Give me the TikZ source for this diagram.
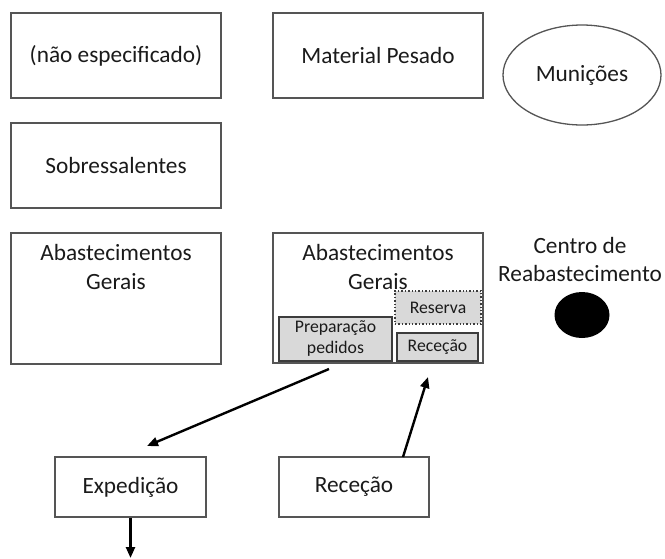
\documentclass[tikz,border=0pt]{standalone}
\usepackage{fontspec}
\setmainfont{Carlito}
\usetikzlibrary{positioning,arrows.meta,shapes.geometric}

\definecolor{boxline}{HTML}{555555}
\definecolor{innerline}{HTML}{3C3C3C}
\definecolor{innerfill}{HTML}{D9D9D9}
\definecolor{textcol}{HTML}{1A1A1A}
\newcommand{\lblfont}{\fontsize{23.3}{28.5}\selectfont}
\newcommand{\innerfont}{\fontsize{17.7}{21}\selectfont}

\tikzset{
    box/.style={draw=boxline, line width=1.7pt, minimum width=210pt,
        minimum height=85pt, inner sep=0pt, font=\lblfont, text=textcol, align=center},
    boxtext/.style={inner sep=0pt, font=\lblfont, text=textcol, align=center},
    innerbox/.style={draw=innerline, fill=innerfill, line width=1.4pt,
        inner sep=0pt, font=\innerfont, text=textcol, align=center},
    flow/.style={line width=2.4pt, -{Triangle[length=11pt,width=9pt]}}
}

\begin{document}
\begin{tikzpicture}[x=1pt, y=-1pt]
\useasboundingbox (0,0) rectangle (665,558);

% Top row
\node[box] (naoesp) at (116,55.5) {(não especificado)};
\node[box] (material) at (378,55.5) {Material Pesado};
\node[ellipse, draw=boxline, line width=1.3pt, minimum width=158pt, minimum height=100pt,
    inner sep=0pt, font=\lblfont, text=textcol] (municoes) at (582,75) {Munições};

% Second row
\node[box] (sobress) at (116,165.5) {Sobressalentes};

% Abastecimentos Gerais
\node[box, minimum height=131pt] (abastL) at (116,298.5) {};
\node[boxtext, anchor=north, below=12pt of abastL.north] (abastLtxt) {Abastecimentos\\Gerais};
\node[box, minimum height=130pt] (abastR) at (378,298) {};
\node[boxtext, anchor=north, below=12pt of abastR.north] (abastRtxt) {Abastecimentos\\Gerais};

% Inside the right box
\node[innerbox, dotted, minimum width=86pt, minimum height=33pt] (reserva) at (438,307.5) {Reserva};
\node[innerbox, minimum width=113pt, minimum height=44pt] (prep) at (335.5,339) {Preparação\\pedidos};
\node[innerbox, minimum width=81pt, minimum height=28pt] (recInner) at (437.5,347) {Receção};

% Centro de Reabastecimento
\node[boxtext, anchor=north] (centro) at (580,237) {Centro de\\Reabastecimento};
\node[ellipse, fill=black, minimum width=55pt, minimum height=46pt, inner sep=0pt] (centroDot) at (582,315) {};

% Bottom row
\node[box, minimum width=151pt, minimum height=60pt] (exped) at (130.5,487) {Expedição};
\node[box, minimum width=150pt, minimum height=60pt] (recep) at (354,487) {Receção};

% Arrows
\coordinate (fromAbast) at (329,369);
\coordinate (toExped) at (147,446);
\coordinate (fromRecep) at (403,457);
\coordinate (toAbast) at (428,377);
\coordinate (outExped) at (130.5,558);
\draw[flow] (fromAbast) -- (toExped);
\draw[flow] (fromRecep) -- (toAbast);
\draw[flow] (exped.south) -- (outExped);

\end{tikzpicture}
\end{document}
